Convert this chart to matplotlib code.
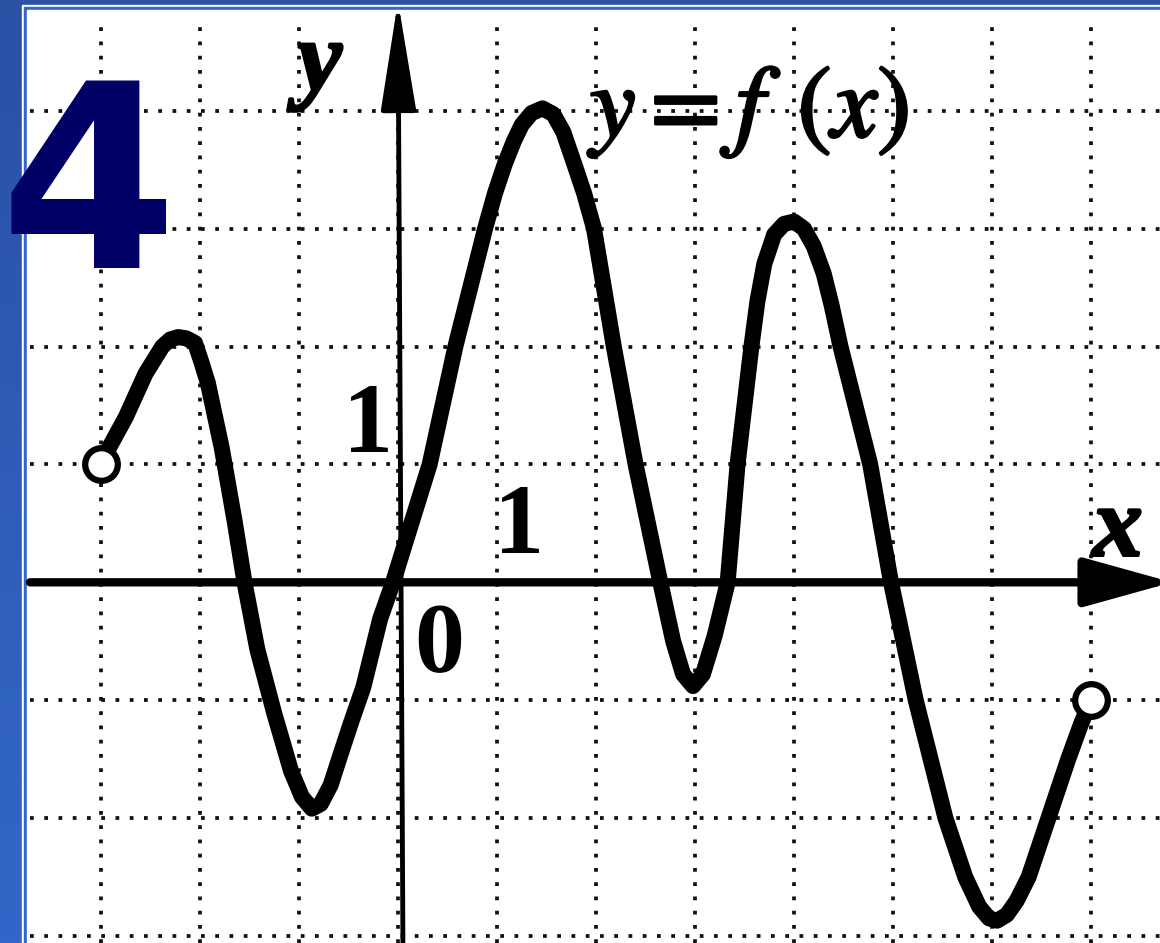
import matplotlib
matplotlib.use('Agg')
import matplotlib.pyplot as plt
import matplotlib.patheffects as pe
import numpy as np
from matplotlib.patches import Rectangle
from matplotlib.colors import LinearSegmentedColormap

# ---- data (grid units) ----
curve_x = [-3.0, -2.9, -2.75, -2.55, -2.38, -2.3, -2.22, -2.14, -2.05, -1.99, -1.92,
           -1.78, -1.65, -1.55, -1.42, -1.25, -1.08, -0.97, -0.87, -0.78, -0.68,
           -0.58, -0.47, -0.35, -0.18, -0.05, 0.32, 0.58, 0.88, 0.98, 1.08, 1.17,
           1.25, 1.35, 1.46, 1.57, 1.67, 1.78, 1.88, 1.98, 2.18, 2.4, 2.65, 2.78,
           2.88, 2.98, 3.08, 3.2, 3.33, 3.43, 3.57, 3.63, 3.7, 3.8, 3.9, 4.0, 4.1,
           4.2, 4.3, 4.38, 4.47, 4.77, 4.98, 5.23, 5.53, 5.73, 5.87, 5.97, 6.05,
           6.15, 6.25, 6.37, 6.57, 6.77, 6.9, 7.0]
curve_y = [1.0, 1.17, 1.40, 1.77, 2.0, 2.06, 2.08, 2.07, 2.03, 1.88, 1.69,
           1.14, 0.52, 0.0, -0.57, -1.11, -1.6, -1.82, -1.92, -1.88, -1.72,
           -1.46, -1.18, -0.89, -0.31, 0.0, 1.0, 2.0, 3.0, 3.3, 3.55, 3.74,
           3.88, 3.98, 4.02, 3.97, 3.82, 3.55, 3.3, 3.0, 2.0, 1.0, 0.0, -0.5,
           -0.78, -0.88, -0.78, -0.45, 0.0, 1.0, 2.0, 2.38, 2.7, 2.95, 3.04, 3.06, 3.0,
           2.85, 2.62, 2.35, 2.0, 1.0, 0.0, -1.0, -2.0, -2.5, -2.75, -2.85, -2.87,
           -2.82, -2.7, -2.5, -2.0, -1.5, -1.2, -1.0]
open_x = [-3, 7]
open_y = [1, -1]
grid_x = list(range(-3, 8))
grid_y = list(range(-3, 5))
label_big = "4"

W, H = 1160, 943
plt.rcParams['mathtext.fontset'] = 'stix'
fig = plt.figure(figsize=(W / 100, H / 100), dpi=100)

# background: blue gradient frame with white panel
bg = fig.add_axes([0, 0, 1, 1])
bg.axis('off')
cmap = LinearSegmentedColormap.from_list('b', ['#2A51A4', '#3267C9'])
bg.imshow(np.linspace(0, 1, 256).reshape(-1, 1), aspect='auto', cmap=cmap,
          extent=[0, 1, 0, 1], origin='upper', zorder=0)
bg.set_xlim(0, 1); bg.set_ylim(0, 1)
bg.add_patch(Rectangle((22 / W, 0), 1, 1 - 5 / H, color='white', zorder=1))
bg.add_patch(Rectangle((24 / W, 0), 1, 1 - 7 / H, color='#3366CC', zorder=2))
bg.add_patch(Rectangle((27 / W, 0), 1, 1 - 10 / H, color='white', zorder=3))

ax = fig.add_axes([27 / W, 0, 1 - 27 / W, 1 - 10 / H])
ax.set_zorder(2)
ax.axis('off')
x0, x1 = -3.747, 7.697
y0, y1 = -3.059, 4.854
ax.set_xlim(x0, x1)
ax.set_ylim(y0, y1)

dot = (0, (1, 2.8))
for gx in grid_x:
    ax.axvline(gx, ymin=0, ymax=(4.78 - y0) / (y1 - y0), color='#111111',
               lw=2.7, ls=dot, zorder=1)
for gy in grid_y:
    ax.axhline(gy, xmin=0.003, xmax=1, color='#111111', lw=2.7, ls=dot, zorder=1)

# axes with arrows
ax.annotate('', xy=(7.82, 0), xytext=(x0 + 0.03, 0), annotation_clip=False,
            arrowprops=dict(arrowstyle='-|>,head_length=5.4,head_width=1.5',
                            lw=6, color='black', shrinkA=0, shrinkB=0,
                            mutation_scale=10), zorder=3)
ax.annotate('', xy=(0.0, 4.93), xytext=(0.05, y0), annotation_clip=False,
            arrowprops=dict(arrowstyle='-|>,head_length=6.8,head_width=1.1',
                            lw=3.5, color='black', shrinkA=0, shrinkB=0,
                            mutation_scale=10), zorder=3)

# function curve
ax.plot(curve_x, curve_y, color='black', lw=11.5, solid_joinstyle='round',
        solid_capstyle='round', zorder=5)
ax.plot(open_x, open_y, 'o', ms=23.5, mfc='white', mec='black', mew=4.5, zorder=6)

thick = [pe.withStroke(linewidth=2, foreground='black')]
serif = 'Liberation Serif'
ax.text(-0.79, 4.38, 'y', family=serif, style='italic', weight='bold', size=72,
        ha='center', va='center', path_effects=thick, zorder=7)
ax.text(7.27, 0.43, 'x', family=serif, style='italic', weight='bold', size=72,
        ha='center', va='center', path_effects=thick, zorder=7)
ax.text(1.94, 3.78, r'$y=f\;\,(x)$', size=74, ha='left', va='baseline',
        path_effects=thick, zorder=7)
ax.text(-0.30, 1.31, '1', family=serif, weight='bold', size=72,
        ha='center', va='center', zorder=7)
ax.text(1.22, 0.45, '1', family=serif, weight='bold', size=72,
        ha='center', va='center', zorder=7)
ax.text(0.42, -0.55, '0', family=serif, weight='bold', size=72,
        ha='center', va='center', zorder=7)

fig.text(88 / W, 1 - 268 / H, label_big, family='DejaVu Sans', weight='bold',
         size=184, color='#000066', ha='center', va='baseline', zorder=10)

fig.savefig('out.png', dpi=100)
